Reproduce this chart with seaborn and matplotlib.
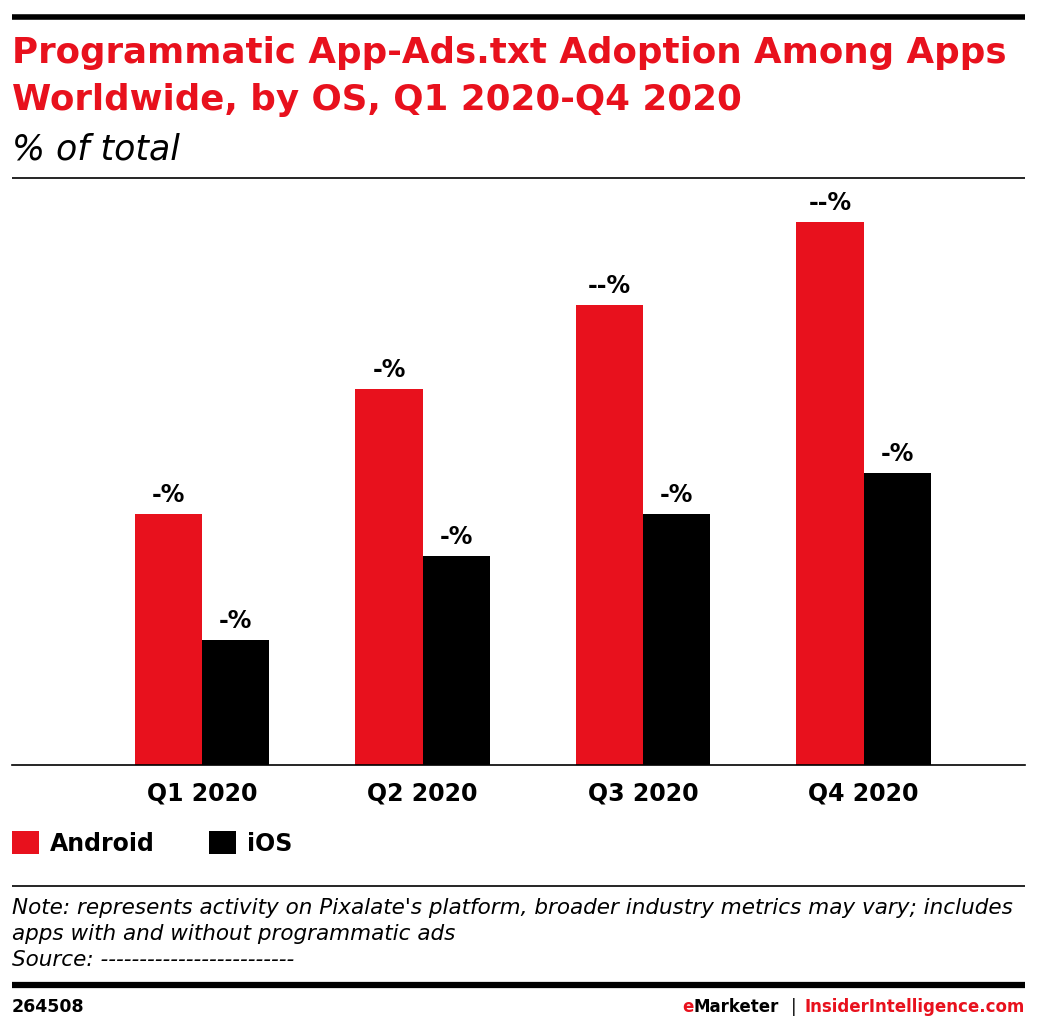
import pandas as pd
import matplotlib
matplotlib.use('Agg')
import matplotlib.pyplot as plt
from matplotlib.lines import Line2D
import seaborn as sns

# Data (labels are masked in the source)
quarters = ['Q1 2020', 'Q2 2020', 'Q3 2020', 'Q4 2020']
android = [30, 45, 55, 65]
ios = [15, 25, 30, 35]
android_labels = ['-%', '-%', '--%', '--%']
ios_labels = ['-%', '-%', '-%', '-%']

RED = '#e8111d'
W, H = 1038, 1030

df = pd.DataFrame({
    'Quarter': quarters * 2,
    'OS': ['Android'] * 4 + ['iOS'] * 4,
    'Share': android + ios,
})

sns.set_style('white')
plt.rcParams['font.family'] = ['DejaVu Sans']
plt.rcParams['text.color'] = 'black'
plt.rcParams['xtick.color'] = 'black'

fig = plt.figure(figsize=(W / 100, H / 100), dpi=100)

def fx(px):
    return px / W

def fy(py):
    return 1 - py / H

ax = fig.add_axes([fx(12), fy(765), fx(1025) - fx(12), fy(180) - fy(765)])
sns.barplot(data=df, x='Quarter', y='Share', hue='OS', palette=[RED, 'black'],
            width=0.61, saturation=1, ax=ax, linewidth=0)

for cont, labs in zip(ax.containers, [android_labels, ios_labels]):
    ax.bar_label(cont, labels=labs, padding=5, fontsize=17, fontweight='bold', color='black')

ax.set_ylim(0, 70)
ax.set_xlim(-0.862, 3.732)
ax.set_xlabel('')
ax.set_ylabel('')
ax.set_yticks([])
ax.tick_params(axis='x', length=0, pad=12, labelsize=17)
for lab in ax.get_xticklabels():
    lab.set_fontweight('bold')
sns.despine(ax=ax, left=True)
ax.spines['bottom'].set_linewidth(1.2)
ax.spines['bottom'].set_color('black')

sns.move_legend(ax, loc='upper left', bbox_to_anchor=(fx(12), fy(831)),
                bbox_transform=fig.transFigure, ncol=2, frameon=False, title=None,
                fontsize=17, handlelength=1.15, handleheight=1.15, borderaxespad=0,
                handletextpad=0.45, columnspacing=2.3, borderpad=0)
for t in ax.get_legend().get_texts():
    t.set_fontweight('bold')

# horizontal rules
def rule(py, lw):
    fig.add_artist(Line2D([fx(12), fx(1025)], [fy(py), fy(py)], color='black',
                          lw=lw, transform=fig.transFigure, solid_capstyle='butt'))

rule(17, 4.0)
rule(178, 1.2)
rule(886, 1.2)
rule(985, 4.5)

# titles
fig.text(fx(12), fy(63), 'Programmatic App-Ads.txt Adoption Among Apps',
         color=RED, fontsize=25.7, fontweight='bold', va='baseline')
fig.text(fx(12), fy(110), 'Worldwide, by OS, Q1 2020-Q4 2020',
         color=RED, fontsize=25.7, fontweight='bold', va='baseline')
fig.text(fx(12), fy(159), '% of total', fontsize=25, style='italic', va='baseline')

# note
note = ("Note: represents activity on Pixalate's platform, broader industry metrics may vary; includes\n"
        "apps with and without programmatic ads\n"
        "Source: -------------------------")
fig.text(fx(12), fy(898), note, fontsize=15.5, style='italic', va='top', linespacing=1.36)

# footer
fig.text(fx(12), fy(1012), '264508', fontsize=12.5, fontweight='bold', va='baseline')
fig.text(fx(1025), fy(1012), 'InsiderIntelligence.com', fontsize=12, fontweight='bold',
         color=RED, ha='right', va='baseline')
fig.text(fx(794), fy(1012), '|', fontsize=12, ha='center', va='baseline')
mk = fig.text(fx(779), fy(1012), 'Marketer', fontsize=12, fontweight='bold',
              ha='right', va='baseline')
fig.canvas.draw()
mk_left = mk.get_window_extent().x0
fig.text(mk_left / W, fy(1012), 'e', fontsize=12, fontweight='bold', color=RED,
         ha='right', va='baseline')

fig.savefig('out.png', dpi=100)
